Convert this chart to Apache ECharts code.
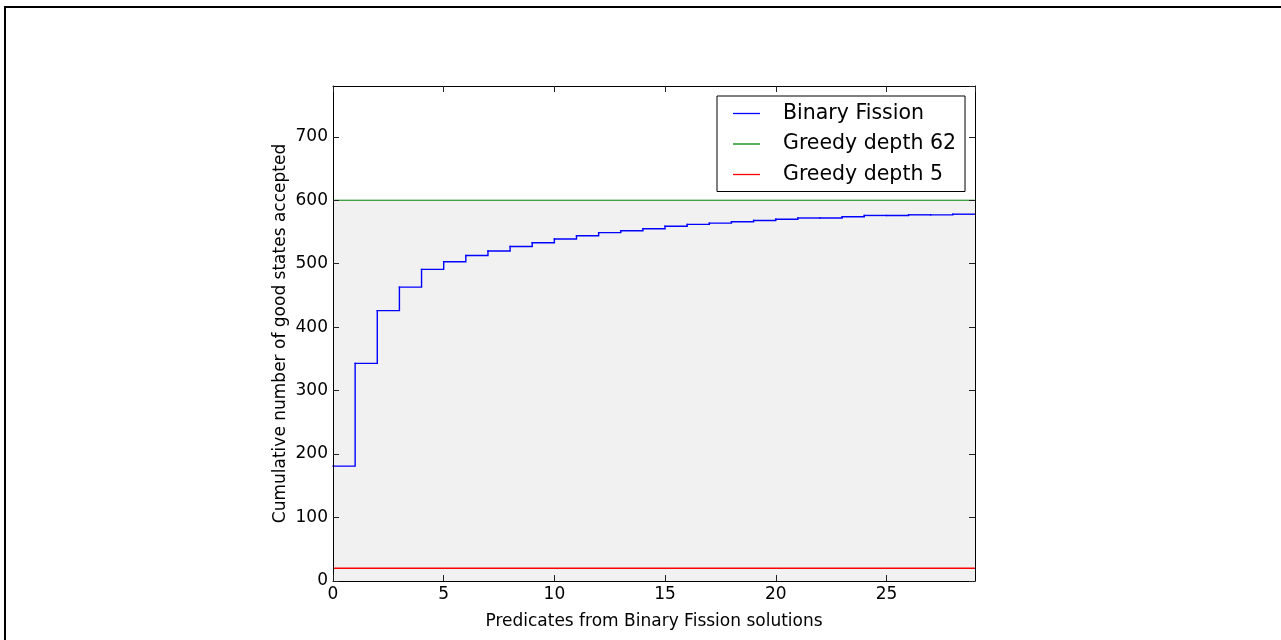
<!DOCTYPE html>
<html>
<head>
<meta charset="utf-8">
<script src="https://cdn.jsdelivr.net/npm/echarts@6/dist/echarts.min.js"></script>
<style>
html,body{margin:0;padding:0;background:#fff;}
#c{width:1281px;height:640px;}
</style>
</head>
<body>
<div id="c"></div>
<script>
// Data
var xValues = [0,1,2,3,4,5,6,7,8,9,10,11,12,13,14,15,16,17,18,19,20,21,22,23,24,25,26,27,28,29];
var binaryFission = [181,343,426,463,491,503,513,520,527,533,539,544,549,552,555,559,562,564,566,568,570,572,572,574,576,576,577,577,578,578];
var greedyDepth62 = 600;
var greedyDepth5 = 20;
var xRange = [0, 29];
var yRange = [0, 780];
var seriesNames = ['Binary Fission', 'Greedy depth 62', 'Greedy depth 5'];
var xTitle = 'Predicates from Binary Fission solutions';
var yTitle = 'Cumulative number of good states accepted';

var FONT = 'DejaVu Sans';
var chart = echarts.init(document.getElementById('c'), null, {renderer: 'canvas'});

// step segments: each item = [x_i, y_i, x_{i+1}, y_{i+1}]
var bfSteps = [];
for (var i = 0; i < xValues.length - 1; i++) {
  bfSteps.push([xValues[i], binaryFission[i], xValues[i + 1], binaryFission[i + 1]]);
}
var g62Data = [[xRange[0], greedyDepth62], [xRange[1], greedyDepth62]];
var g5Data = [[xRange[0], greedyDepth5], [xRange[1], greedyDepth5]];

function axisCommon(extra) {
  var base = {
    axisLine: {show: true, onZero: false, lineStyle: {color: '#000', width: 1}},
    axisTick: {show: true, inside: true, length: 6, lineStyle: {color: '#222', width: 1}},
    splitLine: {show: false},
    z: 5
  };
  for (var k in extra) base[k] = extra[k];
  return base;
}

var option = {
  animation: false,
  backgroundColor: '#fff',
  grid: {left: 333, right: 306, top: 86, bottom: 59, containLabel: false},
  xAxis: [
    axisCommon({
      type: 'value', position: 'bottom', min: xRange[0], max: xRange[1], interval: 5,
      axisLabel: {show: true, color: '#000', fontFamily: FONT, fontSize: 17, margin: 5, showMaxLabel: false},
      name: xTitle, nameLocation: 'middle', nameGap: 32,
      nameTextStyle: {color: '#000', fontFamily: FONT, fontSize: 17}
    }),
    axisCommon({
      type: 'value', position: 'top', min: xRange[0], max: xRange[1], interval: 5,
      axisLabel: {show: false}
    })
  ],
  yAxis: [
    axisCommon({
      type: 'value', position: 'left', min: yRange[0], max: yRange[1], interval: 100,
      axisLabel: {show: true, color: '#000', fontFamily: FONT, fontSize: 17, margin: 5, showMaxLabel: false},
      name: yTitle, nameLocation: 'middle', nameGap: 44, nameRotate: 90, nameMoveOverlap: false,
      nameTextStyle: {color: '#000', fontFamily: FONT, fontSize: 17}
    }),
    axisCommon({
      type: 'value', position: 'right', min: yRange[0], max: yRange[1], interval: 100,
      axisLabel: {show: false}
    })
  ],
  legend: {
    show: true,
    left: 717, top: 96,
    orient: 'vertical',
    data: [
      {name: seriesNames[0], icon: 'rect'},
      {name: seriesNames[1], icon: 'rect'},
      {name: seriesNames[2], icon: 'rect'}
    ],
    itemWidth: 27, itemHeight: 1.3, itemGap: 8.5,
    padding: [6.5, 9, 6, 16],
    borderColor: '#000', borderWidth: 1, backgroundColor: '#fff',
    textStyle: {color: '#000', fontFamily: FONT, fontSize: 20.5, lineHeight: 22, padding: [0, 0, 0, 18]},
    selectedMode: false
  },
  series: [
    {
      name: seriesNames[1], type: 'line', data: g62Data, showSymbol: false, symbol: 'none',
      lineStyle: {color: '#008000', width: 1}, itemStyle: {color: '#008000'},
      areaStyle: {color: '#f1f1f1', opacity: 1, origin: 'start'},
      z: 1, silent: true
    },
    {
      name: seriesNames[2], type: 'line', data: g5Data, showSymbol: false, symbol: 'none',
      lineStyle: {color: '#ff0000', width: 1.6}, itemStyle: {color: '#ff0000'},
      z: 2, silent: true
    },
    {
      name: seriesNames[0], type: 'custom', data: bfSteps,
      encode: {x: [0, 2], y: [1, 3]},
      itemStyle: {color: '#0000ff'},
      z: 3, silent: true,
      renderItem: function (params, api) {
        var x0 = api.value(0), y0 = api.value(1), x1 = api.value(2), y1 = api.value(3);
        var p0 = api.coord([x0, y0]);
        var p1 = api.coord([x1, y0]);
        var p2 = api.coord([x1, y1]);
        return {
          type: 'polyline',
          shape: {points: [p0, p1, p2]},
          style: {stroke: '#0000ff', lineWidth: 1.4, fill: null, lineCap: 'square', lineJoin: 'miter'}
        };
      }
    }
  ],
  graphic: [
    {type: 'line', shape: {x1: 5, y1: 7, x2: 5, y2: 640}, style: {stroke: '#000', lineWidth: 2}},
    {type: 'line', shape: {x1: 4, y1: 7, x2: 1281, y2: 7}, style: {stroke: '#000', lineWidth: 2}}
  ]
};
chart.setOption(option);
</script>
</body>
</html>
